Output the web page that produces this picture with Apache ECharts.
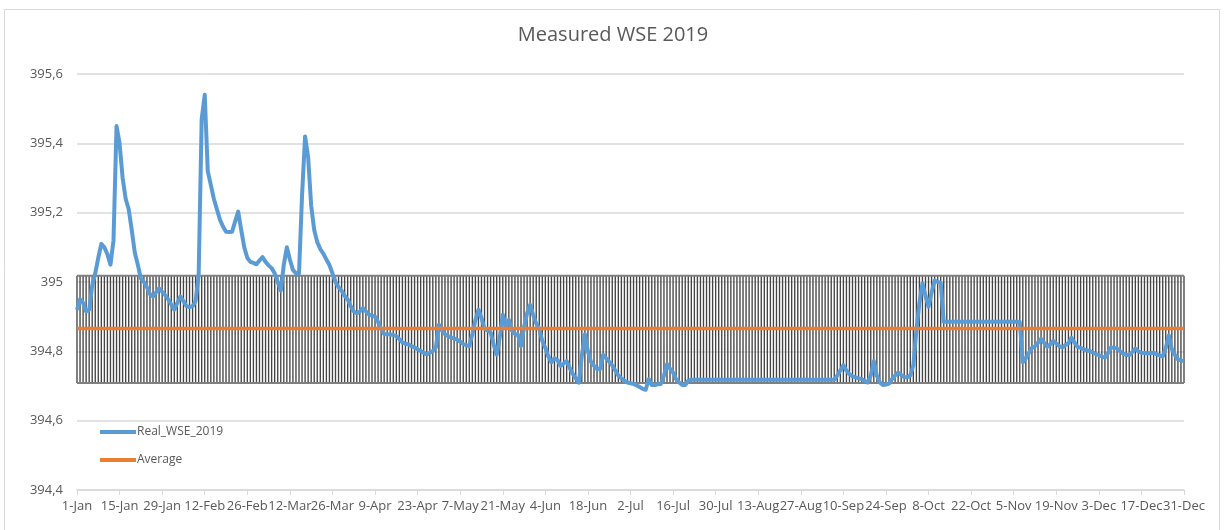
<!DOCTYPE html>
<html><head><meta charset="utf-8">
<script src="https://cdn.jsdelivr.net/npm/echarts@6/dist/echarts.min.js"></script>
<style>html,body{margin:0;padding:0;background:#fff}#c{width:1226px;height:530px}</style>
</head><body><div id="c"></div>
<script>
// Daily measured water-surface elevation, 1-Jan .. 31-Dec 2019 (365 values)
const realWSE2019 = [
394.92,394.95,394.94,394.915,394.92,394.99,395.025,395.07,395.11,395.10,
395.08,395.05,395.12,395.45,395.40,395.30,395.24,395.21,395.15,395.085,
395.05,395.01,395.00,394.985,394.965,394.958,394.97,394.982,394.972,394.962,
394.95,394.935,394.92,394.94,394.958,394.945,394.93,394.928,394.93,394.945,
395.02,395.47,395.54,395.32,395.28,395.24,395.21,395.18,395.16,395.145,
395.144,395.145,395.175,395.203,395.15,395.10,395.07,395.058,395.055,395.051,
395.062,395.072,395.058,395.048,395.04,395.025,395.00,394.975,395.05,395.10,
395.065,395.035,395.025,395.025,395.25,395.42,395.36,395.22,395.15,395.115,
395.095,395.082,395.065,395.049,395.025,395.00,394.985,394.975,394.96,394.95,
394.93,394.915,394.91,394.915,394.925,394.915,394.906,394.903,394.90,394.885,
394.865,394.85,394.849,394.849,394.847,394.844,394.835,394.826,394.822,394.82,
394.815,394.811,394.806,394.801,394.796,394.791,394.796,394.801,394.811,394.877,
394.86,394.849,394.844,394.84,394.837,394.834,394.828,394.821,394.818,394.815,
394.85,394.89,394.92,394.896,394.865,394.86,394.855,394.82,394.79,394.84,
394.906,394.872,394.891,394.86,394.85,394.848,394.815,394.87,394.91,394.934,
394.905,394.88,394.865,394.83,394.81,394.785,394.768,394.78,394.775,394.758,
394.765,394.772,394.752,394.735,394.722,394.71,394.787,394.849,394.80,394.77,
394.758,394.749,394.749,394.79,394.78,394.77,394.76,394.745,394.73,394.722,
394.715,394.71,394.708,394.706,394.702,394.697,394.692,394.689,394.72,394.703,
394.703,394.705,394.706,394.73,394.763,394.75,394.739,394.72,394.71,394.703,
394.703,394.715,394.718,394.718,394.718,394.718,394.718,394.718,394.718,394.718,
394.718,394.718,394.718,394.718,394.718,394.718,394.718,394.718,394.718,394.718,
394.718,394.718,394.718,394.718,394.718,394.718,394.718,394.718,394.718,394.718,
394.718,394.718,394.718,394.718,394.718,394.718,394.718,394.718,394.718,394.718,
394.718,394.718,394.718,394.718,394.718,394.718,394.718,394.718,394.718,394.718,
394.73,394.745,394.76,394.745,394.734,394.728,394.725,394.722,394.72,394.715,
394.71,394.73,394.772,394.73,394.71,394.703,394.704,394.707,394.72,394.73,
394.739,394.732,394.726,394.725,394.73,394.76,394.86,394.94,394.996,394.96,
394.929,394.97,395.004,395.00,394.998,394.885,394.885,394.885,394.885,394.885,
394.885,394.885,394.885,394.885,394.885,394.885,394.885,394.885,394.885,394.885,
394.885,394.885,394.885,394.885,394.885,394.885,394.885,394.885,394.885,394.885,
394.885,394.768,394.78,394.795,394.81,394.815,394.825,394.836,394.825,394.813,
394.82,394.83,394.823,394.815,394.811,394.818,394.823,394.839,394.825,394.813,
394.81,394.806,394.803,394.801,394.797,394.792,394.789,394.785,394.782,394.795,
394.811,394.81,394.808,394.80,394.793,394.79,394.789,394.798,394.808,394.80,
394.796,394.795,394.794,394.795,394.796,394.792,394.788,394.785,394.81,394.846,
394.806,394.79,394.777,394.774,394.772
];
const averageWSE = 394.866;
const bandLow = 394.709;
const bandHigh = 395.018;
const yTicks = [394.4, 394.6, 394.8, 395.0, 395.2, 395.4, 395.6];

const MONTHS = ['Jan','Feb','Mar','Apr','May','Jun','Jul','Aug','Sep','Oct','Nov','Dec'];
const categories = realWSE2019.map((_, i) => {
  const d = new Date(Date.UTC(2019, 0, 1 + i));
  return d.getUTCDate() + '-' + MONTHS[d.getUTCMonth()];
});
const averageData = categories.map(() => averageWSE);
const bandData = categories.map((_, i) => [i, bandLow, bandHigh]);

const textColor = '#595959';
const FONT = '"Open Sans", "Noto Sans", sans-serif';
const chart = echarts.init(document.getElementById('c'), null, {renderer: 'canvas'});
chart.setOption({
  backgroundColor: '#fff',
  animation: false,
  graphic: [{
    type: 'rect', shape: {x: 4.5, y: 9.5, width: 1215, height: 530}, silent: true, z: -10,
    style: {fill: 'none', stroke: '#d9d9d9', lineWidth: 1}
  }],
  title: {
    text: 'Measured WSE 2019', left: 'center', top: 20,
    textStyle: {color: textColor, fontSize: 20, fontWeight: 'normal', fontFamily: FONT}
  },
  legend: {
    orient: 'vertical', left: 95, top: 421,
    itemWidth: 36, itemHeight: 4, itemGap: 16,
    icon: 'rect',
    data: ['Real_WSE_2019', 'Average'],
    textStyle: {color: textColor, fontSize: 12, fontFamily: FONT, padding: [0,0,0,-4]}
  },
  grid: {left: 77, right: 42, top: 74, bottom: 40, containLabel: false},
  xAxis: {
    type: 'category', data: categories, boundaryGap: false,
    axisLine: {lineStyle: {color: '#d9d9d9', width: 1.5}},
    axisTick: {show: true, interval: 13, length: 5, lineStyle: {color: '#d9d9d9'}},
    axisLabel: {interval: 13, color: textColor, fontSize: 13, fontFamily: FONT, margin: 10,
      showMaxLabel: true, hideOverlap: false},
    splitLine: {show: false}
  },
  yAxis: {
    type: 'value', min: yTicks[0], max: yTicks[yTicks.length - 1], interval: 0.2,
    axisLine: {show: false}, axisTick: {show: false},
    axisLabel: {color: textColor, fontSize: 13, fontFamily: FONT, margin: 14,
      formatter: v => {
        const r = Math.round(v * 10) / 10;
        return (Number.isInteger(r) ? String(r) : r.toFixed(1)).replace('.', ',');
      }},
    splitLine: {lineStyle: {color: '#d9d9d9', width: 1.5}}
  },
  series: [
    {
      name: 'band', type: 'custom', silent: true, z: 1,
      data: bandData,
      encode: {x: 0, y: [1, 2]},
      renderItem: (params, api) => {
        const i = api.value(0);
        const p1 = api.coord([i, api.value(1)]);
        const p2 = api.coord([i, api.value(2)]);
        return {type: 'line', shape: {x1: p1[0], y1: p1[1], x2: p2[0], y2: p2[1]},
          style: {stroke: '#444444', lineWidth: 1.35}};
      }
    },
    {
      name: 'bandTop', type: 'line', data: categories.map(() => bandHigh), symbol: 'none', silent: true, z: 1,
      lineStyle: {color: '#808080', width: 2}
    },
    {
      name: 'bandBottom', type: 'line', data: categories.map(() => bandLow), symbol: 'none', silent: true, z: 1,
      lineStyle: {color: '#808080', width: 2}
    },
    {
      name: 'Real_WSE_2019', type: 'line', data: realWSE2019, symbol: 'none', z: 3,
      itemStyle: {color: '#5B9BD5'},
      lineStyle: {color: '#5B9BD5', width: 4, join: 'round'}
    },
    {
      name: 'Average', type: 'line', data: averageData, symbol: 'none', z: 4,
      itemStyle: {color: '#ED7D31'},
      lineStyle: {color: '#ED7D31', width: 3.5}
    }
  ]
});
</script>
</body></html>
